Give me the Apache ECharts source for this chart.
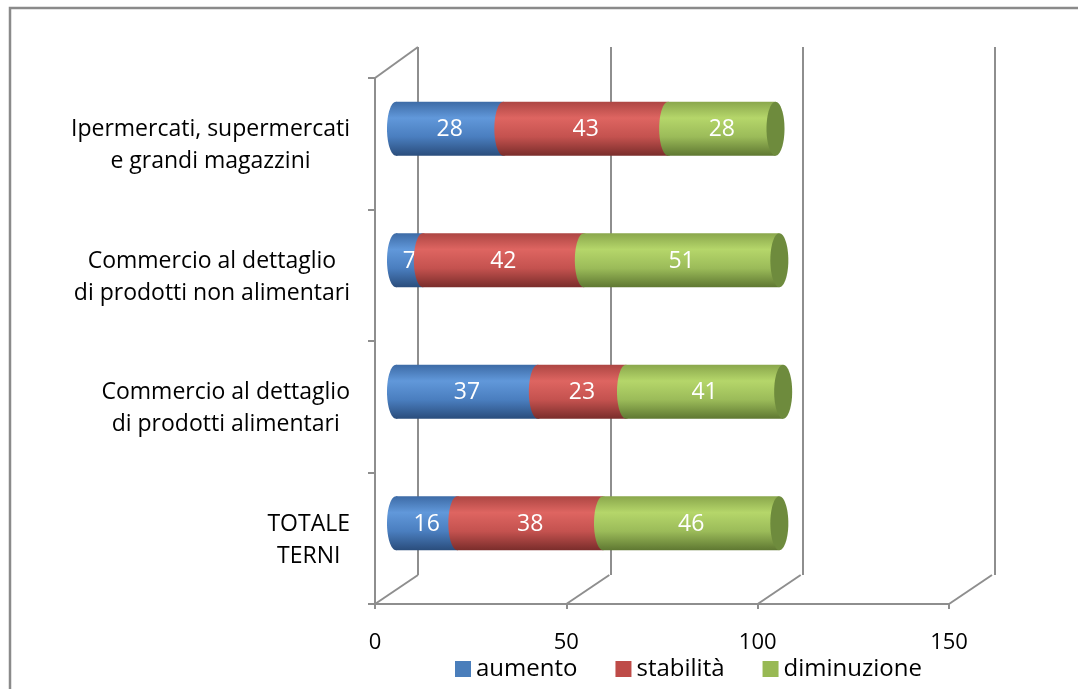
<!DOCTYPE html>
<html>
<head>
<meta charset="utf-8">
<script src="https://cdn.jsdelivr.net/npm/echarts@6/dist/echarts.min.js"></script>
<style>
  html, body { margin: 0; padding: 0; background: #fff; }
  #chart { width: 1078px; height: 689px; }
</style>
</head>
<body>
<div id="chart"></div>
<script>
  // data, bottom to top
  const categories = [
    'TOTALE\nTERNI',
    'Commercio al dettaglio\ndi prodotti alimentari',
    'Commercio al dettaglio\ndi prodotti non alimentari',
    'Ipermercati, supermercati\ne grandi magazzini'
  ];
  const seriesNames = ['aumento', 'stabilità', 'diminuzione'];
  const aumento = [16, 37, 7, 28];
  const stabilita = [38, 23, 42, 43];
  const diminuzione = [46, 41, 51, 28];
  const xTicks = [0, 50, 100, 150];

  const values = [aumento, stabilita, diminuzione];
  const FONT = "'Open Sans', sans-serif";
  const GRAY = '#8e8e8e';
  const DX = 43, DY = -29;

  // cylinder shading: top, highlight, body, bottom, end cap
  const shades = [
    ['#3d6ba6', '#6198da', '#4a7ebf', '#2a4d7c', '#345f96'],
    ['#ad4643', '#de6561', '#c4524f', '#7a2d2b', '#9c3d3a'],
    ['#8aa74c', '#b5d66a', '#9bbb59', '#5f7832', '#6e8b3d']
  ];
  const legendColors = ['#4a7ebb', '#be4b48', '#98b954'];

  function grad(s) {
    return new echarts.graphic.LinearGradient(0, 0, 0, 1, [
      { offset: 0, color: s[0] },
      { offset: 0.3, color: s[1] },
      { offset: 0.65, color: s[2] },
      { offset: 1, color: s[3] }
    ]);
  }

  function cylinderItem(si) {
    return function (params, api) {
      const cat = api.value(0);
      const v = api.value(1);
      let start = 0;
      for (let k = 0; k < si; k++) start += values[k][cat];
      const p0 = api.coord([start, cat]);
      const p1 = api.coord([start + v, cat]);
      const h = api.size([0, 1])[1] * 0.41;
      const rx = 9;
      const children = [
        { type: 'ellipse', shape: { cx: p0[0], cy: p0[1], rx: rx, ry: h / 2 }, style: { fill: grad(shades[si]) } },
        { type: 'rect', shape: { x: p0[0], y: p0[1] - h / 2, width: p1[0] - p0[0], height: h }, style: { fill: grad(shades[si]) } }
      ];
      if (si === values.length - 1) {
        children.push({ type: 'ellipse', shape: { cx: p1[0], cy: p1[1], rx: rx, ry: h / 2 }, style: { fill: shades[si][4] } });
      }
      children.push({
        type: 'text',
        style: {
          text: String(v), x: (p0[0] + p1[0]) / 2, y: p0[1] + 1,
          fill: '#fff', fontSize: 23, fontFamily: FONT, align: 'center', verticalAlign: 'middle'
        }
      });
      return { type: 'group', children: children };
    };
  }

  const chart = echarts.init(document.getElementById('chart'));
  const option = {
    animation: false,
    graphic: [{
      type: 'rect', silent: true,
      shape: { x: 10, y: 8, width: 1200, height: 800 },
      style: { fill: null, stroke: '#8a8a8a', lineWidth: 2.5 }
    }],
    legend: {
      data: seriesNames,
      left: 450, top: 652,
      icon: 'rect', itemWidth: 16, itemHeight: 16, itemGap: 38,
      textStyle: { fontSize: 24, fontFamily: FONT, color: '#000' }
    },
    grid: [
      { left: 375, top: 78, width: 574, height: 526 },
      { left: 418, top: 47, width: 577, height: 528 },
      { left: 396, top: 63, width: 575, height: 526 }
    ],
    xAxis: [
      {
        gridIndex: 0, type: 'value', min: 0, max: 150, interval: 50,
        axisLine: { show: true, lineStyle: { color: GRAY, width: 2 } },
        axisTick: { show: true, length: 5, lineStyle: { color: GRAY, width: 2 } },
        splitLine: { show: false },
        axisLabel: { fontSize: 22, fontFamily: FONT, color: '#000', margin: 28 }
      },
      {
        gridIndex: 1, type: 'value', min: 0, max: 150, interval: 50,
        axisLine: { show: false }, axisTick: { show: false }, axisLabel: { show: false },
        splitLine: { show: true, lineStyle: { color: GRAY, width: 2 } }
      },
      {
        gridIndex: 2, type: 'value', min: 0, max: 150, interval: 50, show: false
      }
    ],
    yAxis: [
      {
        gridIndex: 0, type: 'category', data: categories,
        axisLine: { show: true, lineStyle: { color: GRAY, width: 2 } },
        axisTick: { show: true, length: 7, lineStyle: { color: GRAY, width: 2 } },
        axisLabel: {
          margin: 25, align: 'right',
          formatter: function (val) {
            return val.split('\n').map(function (l) { return '{c|' + l + '}'; }).join('\n');
          },
          rich: { c: { align: 'center', fontSize: 23, fontFamily: FONT, color: '#000', lineHeight: 32, padding: [4, 0, 0, 0] } }
        }
      },
      { gridIndex: 1, type: 'category', data: categories, show: false },
      { gridIndex: 2, type: 'category', data: categories, show: false }
    ],
    series: [
      {
        type: 'custom', xAxisIndex: 0, yAxisIndex: 0, silent: true,
        data: xTicks.map(function (t) { return [t, 0]; }),
        renderItem: function (params, api) {
          const cs = params.coordSys;
          const x = api.coord([api.value(0), 0])[0];
          const yb = cs.y + cs.height;
          const children = [{ type: 'line', shape: { x1: x, y1: yb, x2: x + DX, y2: yb + DY }, style: { stroke: GRAY, lineWidth: 2 } }];
          if (params.dataIndex === 0) {
            children.push({ type: 'line', shape: { x1: x, y1: cs.y, x2: x + DX, y2: cs.y - 31 }, style: { stroke: GRAY, lineWidth: 2 } });
          }
          return { type: 'group', children: children };
        }
      }
    ].concat(seriesNames.map(function (name, si) {
      return {
        name: name, type: 'custom', xAxisIndex: 2, yAxisIndex: 2,
        itemStyle: { color: legendColors[si] },
        encode: { x: 1, y: 0 },
        data: values[si].map(function (v, i) { return [i, v]; }),
        renderItem: cylinderItem(si)
      };
    }))
  };
  chart.setOption(option);
</script>
</body>
</html>
